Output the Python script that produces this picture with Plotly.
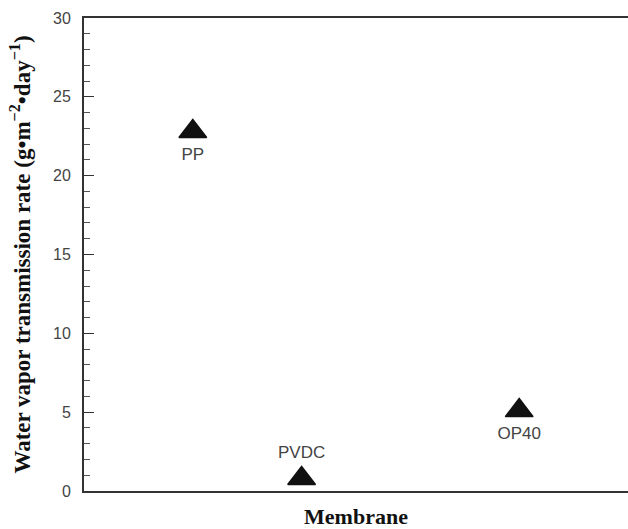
import plotly.graph_objects as go

membranes = ["PP", "PVDC", "OP40"]
x_pos = [2, 4, 8]
wvtr = [22.8, 0.8, 5.1]
label_pos = ["bottom center", "top center", "bottom center"]

fig = go.Figure()
fig.add_trace(go.Scatter(
    x=x_pos, y=wvtr, mode="markers+text",
    text=membranes, textposition=label_pos,
    textfont=dict(family="Liberation Sans, Arial", size=17, color="#444"),
    marker=dict(symbol="triangle-up", size=24, color="#111",
                line=dict(color="#111", width=1.5)),
    showlegend=False, cliponaxis=False,
))

fig.update_layout(
    width=628, height=529,
    margin=dict(l=84, r=0, t=18, b=38, autoexpand=False),
    paper_bgcolor="white", plot_bgcolor="white",
    xaxis=dict(range=[0, 10], showgrid=False, zeroline=False, automargin=False,
               showticklabels=False, ticks="",
               showline=True, linecolor="#333", linewidth=2, mirror=True,
               title=dict(text="<b>Membrane</b>", standoff=18,
                          font=dict(family="Liberation Serif, Times New Roman", size=22, color="#111"))),
    yaxis=dict(range=[0, 30], dtick=5, showgrid=False, zeroline=False, automargin=False,
               showline=True, linecolor="#333", linewidth=2,
               ticks="inside", ticklen=10, tickwidth=1.2, tickcolor="#333",
               minor=dict(ticks="inside", dtick=1, ticklen=6, tickwidth=1, tickcolor="#555"),
               ticklabelstandoff=8,
               tickfont=dict(family="Liberation Sans, Arial", size=16, color="#444"),
               title=dict(text="<b>Water vapor transmission rate (g•m<sup>−2</sup>•day<sup>−1</sup>)</b>",
                          standoff=16,
                          font=dict(family="Liberation Serif, Times New Roman", size=23, color="#111"))),
)

fig.write_html("out.html", config={"displayModeBar": False},
               post_script="document.body.style.margin='0';document.body.style.overflow='hidden';")
